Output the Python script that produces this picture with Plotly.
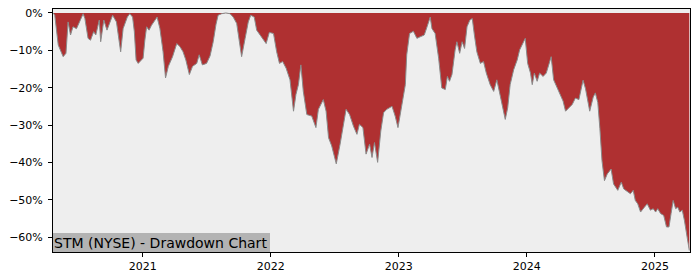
import plotly.graph_objects as go

dates = [
    "2020-04-20", "2020-04-25", "2020-05-05", "2020-05-14", "2020-05-19", "2020-05-27",
    "2020-06-02", "2020-06-09", "2020-06-16", "2020-06-26", "2020-07-08", "2020-07-15",
    "2020-07-20", "2020-07-29", "2020-08-05", "2020-08-14", "2020-08-20", "2020-08-30",
    "2020-09-03", "2020-09-12", "2020-09-21", "2020-10-07", "2020-10-18", "2020-10-30",
    "2020-11-06", "2020-11-18", "2020-11-25", "2020-12-03", "2020-12-08", "2020-12-13",
    "2020-12-19", "2021-01-02", "2021-01-07", "2021-01-12", "2021-01-19", "2021-01-26",
    "2021-02-11", "2021-02-19", "2021-02-28", "2021-03-07", "2021-03-15", "2021-03-27",
    "2021-04-08", "2021-04-17", "2021-04-26", "2021-05-04", "2021-05-14", "2021-05-23",
    "2021-06-04", "2021-06-11", "2021-06-20", "2021-07-02", "2021-07-12", "2021-07-21",
    "2021-07-29", "2021-08-04", "2021-08-14", "2021-08-26", "2021-09-07", "2021-09-16",
    "2021-09-26", "2021-10-10", "2021-10-20", "2021-10-29", "2021-11-05", "2021-11-15",
    "2021-11-22", "2021-12-02", "2021-12-11", "2021-12-19", "2021-12-28", "2022-01-09",
    "2022-01-18", "2022-01-26", "2022-02-04", "2022-02-14", "2022-02-25", "2022-03-07",
    "2022-03-14", "2022-03-21", "2022-03-28", "2022-04-04", "2022-04-14", "2022-04-28",
    "2022-05-10", "2022-05-17", "2022-05-31", "2022-06-08", "2022-06-15", "2022-06-24",
    "2022-07-07", "2022-07-18", "2022-08-04", "2022-08-14", "2022-08-25", "2022-09-04",
    "2022-09-11", "2022-09-21", "2022-09-30", "2022-10-10", "2022-10-17", "2022-10-24",
    "2022-11-02", "2022-11-11", "2022-11-19", "2022-11-28", "2022-12-13", "2022-12-22",
    "2022-12-30", "2023-01-10", "2023-01-20", "2023-01-24", "2023-02-01", "2023-02-12",
    "2023-02-22", "2023-03-03", "2023-03-15", "2023-03-23", "2023-04-01", "2023-04-06",
    "2023-04-15", "2023-04-25", "2023-05-04", "2023-05-14", "2023-05-20", "2023-05-26",
    "2023-06-02", "2023-06-11", "2023-06-16", "2023-06-24", "2023-07-01", "2023-07-08",
    "2023-07-15", "2023-07-23", "2023-07-30", "2023-08-05", "2023-08-12", "2023-08-22",
    "2023-08-31", "2023-09-08", "2023-09-19", "2023-09-29", "2023-10-08", "2023-10-16",
    "2023-10-23", "2023-11-01", "2023-11-08", "2023-11-15", "2023-11-25", "2023-12-05",
    "2023-12-12", "2023-12-22", "2023-12-28", "2024-01-04", "2024-01-12", "2024-01-17",
    "2024-01-23", "2024-01-31", "2024-02-07", "2024-02-17", "2024-02-26", "2024-03-04",
    "2024-03-11", "2024-03-18", "2024-03-28", "2024-04-04", "2024-04-14", "2024-04-21",
    "2024-04-30", "2024-05-10", "2024-05-19", "2024-05-29", "2024-06-10", "2024-06-17",
    "2024-06-29", "2024-07-09", "2024-07-15", "2024-07-22", "2024-07-28", "2024-08-03",
    "2024-08-10", "2024-08-18", "2024-08-29", "2024-09-05", "2024-09-17", "2024-09-27",
    "2024-10-04", "2024-10-15", "2024-10-23", "2024-10-31", "2024-11-06", "2024-11-13",
    "2024-11-21", "2024-12-02", "2024-12-10", "2024-12-19", "2024-12-27", "2025-01-03",
    "2025-01-09", "2025-01-17", "2025-01-26", "2025-02-03", "2025-02-10", "2025-02-16",
    "2025-02-22", "2025-03-01", "2025-03-07", "2025-03-13", "2025-03-20", "2025-03-26",
    "2025-04-01", "2025-04-07", "2025-04-09",
]

drawdown_pct = [
    0.0, -0.6, -8.6, -10.8, -11.7, -10.8,
    -2.4, -5.9, -3.7, -4.2, -1.9, -0.2,
    -1.5, -6.8, -7.3, -5.0, -5.9, -1.9,
    -7.7, -1.9, -4.6, -0.6, -2.4, -10.4,
    -4.2, -1.1, -0.2, -1.1, -5.0, -12.6,
    -13.5, -12.1, -7.3, -3.7, -4.6, -3.3,
    -1.1, -4.2, -10.4, -17.4, -14.3, -11.7,
    -8.2, -9.0, -10.4, -12.6, -16.5, -14.3,
    -13.5, -11.2, -13.9, -13.5, -11.5, -7.7,
    -3.0, -0.6, -0.2, 0.0, -0.2, -1.1,
    -2.8, -11.7, -6.8, -2.4, -0.6, -1.1,
    -4.6, -5.9, -7.3, -8.2, -5.2, -5.5,
    -10.4, -13.5, -13.0, -14.8, -17.9, -26.3,
    -21.8, -19.2, -13.9, -21.0, -27.2, -27.6,
    -30.7, -25.8, -23.2, -26.3, -33.4, -35.6,
    -40.4, -35.1, -25.8, -27.2, -30.3, -32.5,
    -29.8, -30.7, -37.8, -35.1, -38.7, -34.7,
    -40.0, -31.6, -26.7, -25.8, -25.0, -27.6,
    -30.7, -24.5, -19.2, -11.2, -5.5, -4.9,
    -6.8, -6.4, -5.9, -3.7, -1.1, -4.2,
    -5.5, -12.1, -20.1, -20.5, -17.0, -18.3,
    -16.5, -9.9, -7.7, -10.8, -7.7, -9.5,
    -3.7, -1.9, -1.5, -5.9, -10.4, -13.5,
    -13.0, -16.1, -19.2, -21.0, -17.9, -21.4,
    -24.5, -28.5, -25.4, -19.2, -15.2, -12.6,
    -9.9, -7.7, -6.8, -13.5, -16.1, -19.2,
    -16.1, -18.3, -16.1, -17.0, -16.1, -13.9,
    -11.7, -17.9, -20.1, -21.4, -23.6, -26.3,
    -25.4, -24.5, -22.8, -23.2, -18.0, -20.3,
    -26.3, -22.5, -21.4, -24.0, -31.0, -39.6,
    -44.9, -43.1, -41.8, -45.8, -47.5, -45.3,
    -47.1, -48.0, -48.4, -47.5, -50.2, -51.1,
    -53.3, -52.0, -51.1, -52.8, -52.4, -53.3,
    -52.4, -53.7, -54.2, -57.3, -57.3, -53.7,
    -50.2, -52.4, -52.0, -53.3, -52.8, -55.5,
    -59.0, -62.0, -63.6,
]

y_tick_values = [0, -10, -20, -30, -40, -50, -60]
y_tick_labels = ["0%", "\u221210%", "\u221220%", "\u221230%", "\u221240%", "\u221250%", "\u221260%"]
x_tick_values = ["2021-01-01", "2022-01-01", "2023-01-01", "2024-01-01", "2025-01-01"]
x_tick_labels = ["2021", "2022", "2023", "2024", "2025"]
title_text = "STM (NYSE) - Drawdown Chart"
x_range = ["2020-04-20", "2025-04-11"]
y_range = [-64.0, 1.06]

fig = go.Figure()
fig.add_trace(go.Scatter(
    x=dates, y=drawdown_pct, mode="lines",
    line=dict(color="#8a8a8a", width=1),
    fill="tozeroy", fillcolor="#af3031",
    hoverinfo="skip", showlegend=False,
))

axis_font = dict(family="DejaVu Sans", size=11, color="#000000")
fig.update_layout(
    width=700, height=280,
    margin=dict(l=53, r=10, t=7, b=28),
    paper_bgcolor="#ffffff", plot_bgcolor="#eeeeee",
    showlegend=False,
    xaxis=dict(
        range=x_range, tickvals=x_tick_values, ticktext=x_tick_labels,
        showgrid=False, zeroline=False, showline=True, mirror=True,
        linecolor="#000000", linewidth=1, ticks="outside", ticklen=4,
        tickcolor="#000000", tickfont=axis_font,
    ),
    yaxis=dict(
        range=y_range, tickvals=y_tick_values, ticktext=y_tick_labels,
        showgrid=False, zeroline=False, showline=True, mirror=True,
        linecolor="#000000", linewidth=1, ticks="outside", ticklen=4,
        tickcolor="#000000", tickfont=axis_font, ticklabelstandoff=3,
    ),
    annotations=[dict(
        text=title_text, xref="paper", yref="paper", x=0, y=0,
        xanchor="left", yanchor="bottom", showarrow=False,
        font=dict(family="DejaVu Sans", size=14, color="#000000"),
        bgcolor="#b3b3b3", borderpad=1, borderwidth=0,
        width=215, height=17, align="left",
    )],
)

fig.write_html("out.html")
